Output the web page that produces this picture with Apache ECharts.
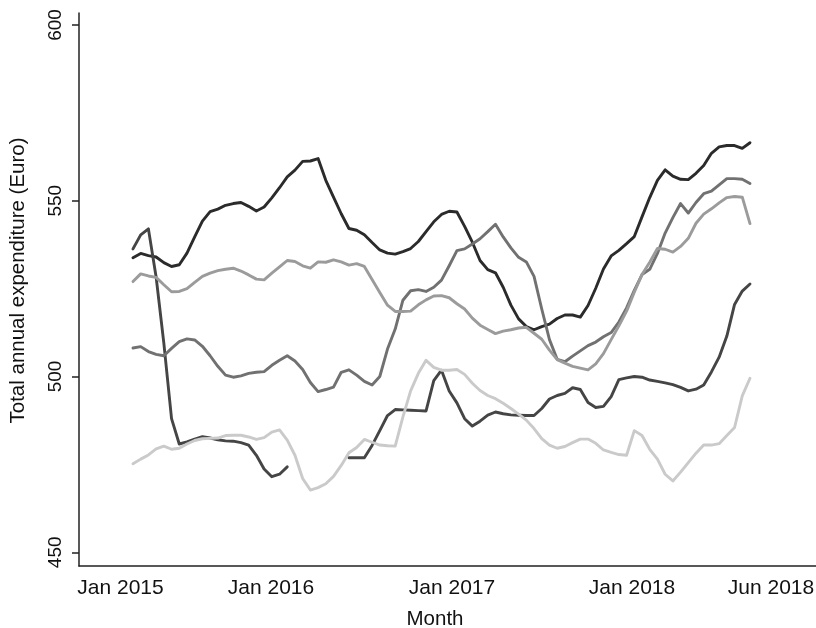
<!DOCTYPE html>
<html>
<head>
<meta charset="utf-8">
<script src="https://cdn.jsdelivr.net/npm/echarts@6/dist/echarts.min.js"></script>
<style>html,body{margin:0;padding:0;background:#fff}#c{width:816px;height:628px}</style>
</head>
<body>
<div id="c"></div>
<script>
// Tick labels for the x axis and where they sit (in period-index units)
var xTickLabels = ['Jan 2015', 'Jan 2016', 'Jan 2017', 'Jan 2018', 'Jun 2018'];
var xTickAt = [-1.62, 17.89, 41.36, 64.70, 82.72];
var yTickValues = [450, 500, 550, 600];

// Five series, one value per period (81 periods), null = missing
var seriesA = [533.8,535.0,534.4,534.0,532.4,531.3,531.8,535.1,539.7,544.2,546.9,547.6,548.7,549.2,549.5,548.4,547.1,548.2,550.8,553.7,556.8,558.7,561.2,561.3,562.0,555.8,551.0,546.3,542.1,541.6,540.3,538.1,536.0,535.1,534.8,535.5,536.4,538.4,541.2,544.0,546.1,547.0,546.8,542.7,538.2,533.0,530.4,529.5,525.4,520.3,516.4,514.2,513.3,514.2,514.9,516.5,517.5,517.5,516.9,520.2,525.1,530.6,534.3,535.9,537.8,539.8,545.4,550.9,555.8,558.8,557.0,556.1,556.0,557.8,560.0,563.5,565.3,565.7,565.7,564.9,566.5];
var seriesB = [536.3,540.3,542.0,528.3,509.5,488.0,480.8,481.4,482.2,482.9,482.5,482.0,481.7,481.6,481.2,480.5,477.6,473.7,471.5,472.2,474.3,null,null,null,null,null,null,null,476.9,476.9,476.9,480.4,484.6,488.9,490.6,490.5,490.4,490.3,490.2,498.8,501.8,495.9,492.5,488.0,485.9,487.3,489.0,489.9,489.4,489.1,489.0,488.9,488.9,490.9,493.6,494.6,495.2,496.8,496.3,492.6,491.2,491.5,494.3,499.1,499.6,500.0,499.8,499.0,498.6,498.2,497.7,496.9,495.9,496.4,497.6,501.3,505.5,511.5,520.5,524.3,526.3];
var seriesC = [508.1,508.5,507.1,506.3,505.9,508.0,509.9,510.7,510.4,508.6,505.9,502.9,500.4,499.8,500.2,500.9,501.2,501.4,503.2,504.6,505.9,504.4,502.0,498.3,495.7,496.3,497.0,501.2,501.9,500.4,498.6,497.6,500.0,507.8,513.5,521.7,524.4,524.7,524.2,525.4,527.4,531.5,535.8,536.3,537.7,539.2,541.2,543.3,539.7,536.6,533.9,532.6,528.5,519.2,510.5,504.9,504.2,505.8,507.3,508.8,509.8,511.3,512.5,515.5,519.5,524.5,529.0,530.5,535.0,540.8,545.2,549.2,546.5,549.5,552.0,552.7,554.5,556.3,556.3,556.1,554.9];
var seriesD = [527.0,529.2,528.6,528.2,526.1,524.1,524.2,525.0,526.8,528.5,529.4,530.1,530.5,530.8,530.0,528.9,527.7,527.5,529.4,531.2,533.0,532.7,531.5,530.8,532.6,532.5,533.2,532.6,531.7,532.1,531.3,527.6,523.9,520.3,518.5,518.5,518.6,520.4,521.8,522.9,523.0,522.4,520.7,519.2,516.6,514.6,513.4,512.2,512.9,513.3,513.8,514.0,512.3,510.6,507.5,504.8,503.8,502.9,502.4,501.9,503.6,506.5,510.5,514.4,518.6,524.0,529.0,532.5,536.4,536.2,535.4,537.0,539.3,543.6,546.2,547.7,549.4,550.9,551.2,551.0,543.5];
var seriesE = [475.2,476.5,477.7,479.4,480.2,479.3,479.6,480.8,481.8,482.3,482.4,482.5,483.2,483.3,483.3,482.8,482.1,482.6,484.2,484.8,481.9,477.6,471.0,467.7,468.4,469.5,471.6,474.7,478.3,479.8,482.1,481.3,480.5,480.3,480.2,488.5,495.9,500.9,504.6,502.6,501.8,501.8,502.0,500.6,498.1,496.0,494.6,493.7,492.4,490.9,489.3,487.6,485.2,482.3,480.5,479.6,480.1,481.2,482.2,482.2,481.0,479.1,478.4,477.8,477.6,484.6,483.2,479.3,476.5,472.2,470.3,472.8,475.5,478.2,480.5,480.5,480.9,483.2,485.5,494.5,499.5];

var seriesList = [seriesA, seriesB, seriesC, seriesD, seriesE];
var colors = ['#2b2b2b', '#454545', '#717171', '#9b9b9b', '#cacaca'];
var FONT = "'Liberation Sans', Arial, Helvetica, sans-serif";

function toPairs(arr) {
  return arr.map(function (v, i) { return [i, v]; });
}

var chart = echarts.init(document.getElementById('c'), null, { renderer: 'canvas' });
chart.setOption({
  animation: false,
  backgroundColor: '#ffffff',
  grid: { left: 79, right: 0, top: 13, bottom: 62, containLabel: false, outerBoundsMode: 'none' },
  xAxis: {
    type: 'value',
    min: -7.0,
    max: 88.56,
    name: 'Month',
    nameLocation: 'middle',
    nameGap: 43,
    nameTextStyle: { fontFamily: FONT, fontSize: 20.5, color: '#111', padding: [0, 25, 0, 0] },
    axisLine: { show: true, onZero: false, lineStyle: { color: '#222', width: 1.5 } },
    axisTick: { show: false },
    splitLine: { show: false },
    axisLabel: {
      customValues: xTickAt,
      margin: 12,
      fontFamily: FONT, fontSize: 21, color: '#111',
      formatter: function (val) {
        for (var i = 0; i < xTickAt.length; i++) {
          if (Math.abs(xTickAt[i] - val) < 1e-6) return xTickLabels[i];
        }
        return '';
      }
    }
  },
  yAxis: {
    type: 'value',
    min: 446.1,
    max: 603.4,
    name: 'Total annual expenditure (Euro)',
    nameLocation: 'middle',
    nameGap: 50,
    nameRotate: 90,
    nameTextStyle: { fontFamily: FONT, fontSize: 20.5, color: '#111', padding: [0, 0, 0, 18] },
    axisLine: { show: true, onZero: false, lineStyle: { color: '#222', width: 1.5 } },
    axisTick: { show: true, customValues: yTickValues, length: 7, lineStyle: { color: '#222', width: 1.5 } },
    splitLine: { show: false },
    axisLabel: {
      customValues: yTickValues,
      rotate: 90,
      margin: 14,
      fontFamily: FONT, fontSize: 19, color: '#111'
    }
  },
  series: seriesList.map(function (s, i) {
    return {
      type: 'line',
      data: toPairs(s),
      showSymbol: false,
      symbol: 'none',
      connectNulls: false,
      lineStyle: { color: colors[i], width: 2.9, join: 'round', cap: 'round' },
      z: 2
    };
  })
});
</script>
</body>
</html>
